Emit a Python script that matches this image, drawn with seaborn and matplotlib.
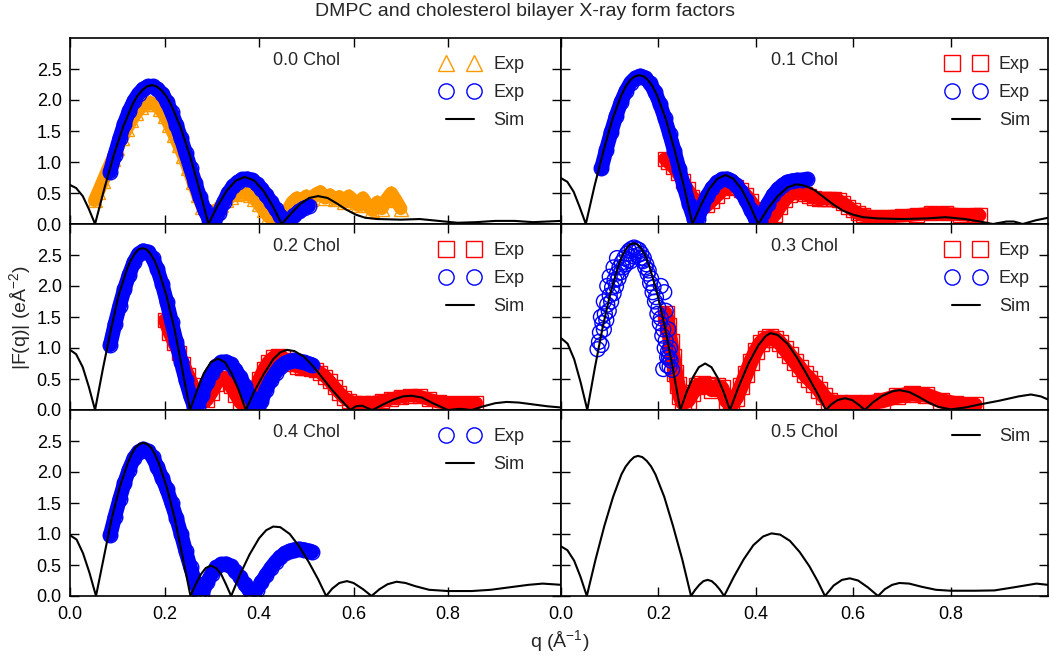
import matplotlib
matplotlib.use("Agg")
import matplotlib.pyplot as plt
from matplotlib.lines import Line2D
from matplotlib.legend_handler import HandlerLine2D
import seaborn as sns

# ---- simulated |F(q)| curves (black lines) ----
q_sim_00 = [0, 0.013, 0.027, 0.040, 0.053, 0.073, 0.093, 0.113, 0.133, 0.143, 0.153, 0.163, 0.173, 0.183,
            0.193, 0.203, 0.213, 0.233, 0.253, 0.273, 0.293, 0.312, 0.332, 0.351, 0.370, 0.390, 0.409, 0.429,
            0.448, 0.468, 0.487, 0.506, 0.525, 0.545, 0.565, 0.585, 0.605, 0.625, 0.65, 0.70, 0.74, 0.78,
            0.82, 0.86, 0.90, 0.94, 0.98, 1.04]
f_sim_00 = [0.63, 0.58, 0.45, 0.24, 0.0, 0.58, 1.12, 1.58, 1.94, 2.07, 2.16, 2.22, 2.24, 2.22,
            2.16, 2.07, 1.94, 1.58, 1.12, 0.58, 0.0, 0.29, 0.54, 0.70, 0.76, 0.70, 0.54, 0.29,
            0.0, 0.17, 0.32, 0.42, 0.45, 0.42, 0.33, 0.23, 0.15, 0.10, 0.08, 0.07, 0.08, 0.05,
            0.02, 0.03, 0.05, 0.05, 0.03, 0.05]

q_sim_01 = [0, 0.013, 0.026, 0.038, 0.051, 0.069, 0.088, 0.106, 0.124, 0.133, 0.142, 0.151, 0.161, 0.170,
            0.179, 0.188, 0.197, 0.215, 0.233, 0.252, 0.270, 0.287, 0.304, 0.321, 0.338, 0.354, 0.371, 0.388,
            0.405, 0.425, 0.445, 0.465, 0.483, 0.50, 0.52, 0.54, 0.56, 0.58, 0.60, 0.62, 0.65, 0.70, 0.75,
            0.79, 0.83, 0.86, 0.887, 0.915, 0.93, 0.948, 0.975, 1.0]
f_sim_01 = [0.74, 0.68, 0.52, 0.28, 0.0, 0.62, 1.20, 1.70, 2.08, 2.22, 2.32, 2.38, 2.40, 2.38,
            2.32, 2.22, 2.08, 1.70, 1.20, 0.62, 0.0, 0.30, 0.56, 0.73, 0.79, 0.73, 0.56, 0.30,
            0.0, 0.25, 0.45, 0.59, 0.64, 0.62, 0.55, 0.43, 0.31, 0.21, 0.15, 0.11, 0.09, 0.08, 0.09,
            0.11, 0.08, 0.04, 0.0, 0.04, 0.04, 0.0, 0.06, 0.10]

q_sim_02 = [0, 0.013, 0.027, 0.040, 0.053, 0.070, 0.087, 0.103, 0.120, 0.128, 0.137, 0.145, 0.154, 0.162,
            0.170, 0.179, 0.187, 0.204, 0.221, 0.237, 0.254, 0.269, 0.283, 0.298, 0.313, 0.328, 0.342, 0.357,
            0.372, 0.39, 0.41, 0.43, 0.445, 0.459, 0.475, 0.495, 0.515, 0.535, 0.555, 0.575, 0.593, 0.605,
            0.618, 0.63, 0.64, 0.66, 0.685, 0.705, 0.723, 0.745, 0.765, 0.785, 0.80, 0.825, 0.85, 0.875,
            0.90, 0.924, 0.95, 0.98, 1.01, 1.04]
f_sim_02 = [0.97, 0.90, 0.69, 0.37, 0.0, 0.68, 1.31, 1.85, 2.26, 2.41, 2.52, 2.59, 2.61, 2.59,
            2.52, 2.41, 2.26, 1.85, 1.31, 0.68, 0.0, 0.32, 0.59, 0.77, 0.83, 0.77, 0.59, 0.32,
            0.0, 0.30, 0.58, 0.82, 0.93, 0.97, 0.95, 0.86, 0.70, 0.51, 0.32, 0.15, 0.0, 0.06,
            0.07, 0.03, 0.0, 0.08, 0.17, 0.22, 0.23, 0.20, 0.12, 0.05, 0.0, 0.02, 0.0, 0.06,
            0.11, 0.13, 0.12, 0.09, 0.06, 0.04]

q_sim_03 = [0, 0.0135, 0.027, 0.0405, 0.054, 0.070, 0.086, 0.102, 0.118, 0.126, 0.134, 0.141, 0.150, 0.157,
            0.165, 0.173, 0.181, 0.197, 0.213, 0.229, 0.245, 0.258, 0.271, 0.283, 0.296, 0.309, 0.321, 0.334,
            0.347, 0.365, 0.385, 0.405, 0.42, 0.43, 0.445, 0.465, 0.485, 0.505, 0.525, 0.544, 0.555, 0.568,
            0.583, 0.598, 0.612, 0.624, 0.64, 0.66, 0.68, 0.695, 0.715, 0.735, 0.755, 0.775, 0.80, 0.83,
            0.86, 0.90, 0.94, 0.965, 0.985, 1.0]
f_sim_03 = [1.16, 1.07, 0.82, 0.44, 0.0, 0.70, 1.35, 1.90, 2.33, 2.49, 2.60, 2.67, 2.69, 2.67,
            2.60, 2.49, 2.33, 1.90, 1.35, 0.70, 0.0, 0.29, 0.53, 0.69, 0.75, 0.69, 0.53, 0.29,
            0.0, 0.38, 0.75, 1.04, 1.19, 1.24, 1.21, 1.07, 0.84, 0.57, 0.29, 0.0, 0.09, 0.16,
            0.19, 0.16, 0.08, 0.0, 0.12, 0.23, 0.30, 0.32, 0.29, 0.21, 0.12, 0.05, 0.01, 0.04,
            0.09, 0.15, 0.22, 0.25, 0.22, 0.17]

q_sim_04 = [0, 0.014, 0.0275, 0.041, 0.055, 0.072, 0.088, 0.105, 0.122, 0.130, 0.138, 0.147, 0.155, 0.163,
            0.172, 0.180, 0.188, 0.205, 0.222, 0.238, 0.255, 0.266, 0.277, 0.287, 0.298, 0.309, 0.320, 0.330,
            0.341, 0.36, 0.38, 0.40, 0.415, 0.43, 0.445, 0.465, 0.485, 0.505, 0.525, 0.542, 0.555, 0.57,
            0.586, 0.60, 0.62, 0.638, 0.655, 0.672, 0.691, 0.71, 0.73, 0.76, 0.80, 0.85, 0.89, 0.93, 0.97,
            1.0, 1.04]
f_sim_04 = [0.98, 0.91, 0.69, 0.38, 0.0, 0.64, 1.24, 1.75, 2.14, 2.28, 2.39, 2.45, 2.47, 2.45,
            2.39, 2.28, 2.14, 1.75, 1.24, 0.64, 0.0, 0.19, 0.35, 0.45, 0.49, 0.45, 0.35, 0.19,
            0.0, 0.35, 0.67, 0.93, 1.06, 1.12, 1.11, 1.00, 0.80, 0.55, 0.27, 0.0, 0.12, 0.21,
            0.24, 0.21, 0.11, 0.0, 0.11, 0.19, 0.23, 0.21, 0.16, 0.10, 0.08, 0.08, 0.10, 0.14, 0.18,
            0.20, 0.18]

q_sim_05 = [0, 0.013, 0.027, 0.040, 0.053, 0.071, 0.089, 0.107, 0.124, 0.133, 0.142, 0.150, 0.158, 0.167,
            0.176, 0.185, 0.194, 0.212, 0.230, 0.249, 0.267, 0.2755, 0.284, 0.2925, 0.301, 0.3095, 0.318,
            0.3265, 0.335, 0.355, 0.375, 0.395, 0.415, 0.432, 0.45, 0.47, 0.49, 0.51, 0.527, 0.542, 0.56,
            0.577, 0.593, 0.61, 0.63, 0.651, 0.665, 0.68, 0.695, 0.715, 0.74, 0.77, 0.80, 0.85, 0.89, 0.93,
            0.976, 1.0]
f_sim_05 = [0.80, 0.74, 0.57, 0.31, 0.0, 0.59, 1.13, 1.60, 1.96, 2.09, 2.18, 2.24, 2.26, 2.24,
            2.18, 2.09, 1.96, 1.60, 1.13, 0.59, 0.0, 0.10, 0.18, 0.24, 0.26, 0.24, 0.18,
            0.10, 0.0, 0.31, 0.59, 0.82, 0.96, 1.01, 0.99, 0.89, 0.71, 0.48, 0.24, 0.0, 0.17,
            0.26, 0.285, 0.25, 0.14, 0.0, 0.11, 0.18, 0.21, 0.20, 0.15, 0.10, 0.085, 0.085, 0.09, 0.14,
            0.20, 0.18]

q_orange_00 = [0.052, 0.06, 0.07, 0.08, 0.09, 0.10, 0.11, 0.12, 0.13, 0.14, 0.15, 0.16, 0.17, 0.18, 0.19,
               0.20, 0.21, 0.22, 0.23, 0.24, 0.25, 0.26, 0.27, 0.28, 0.29, 0.30, 0.31, 0.32, 0.33, 0.34,
               0.35, 0.36, 0.37, 0.38, 0.39, 0.40, 0.41, 0.42, 0.43, 0.44, 0.45, 0.46, 0.47, 0.48, 0.49,
               0.50, 0.51, 0.52, 0.53, 0.54, 0.55, 0.56, 0.57, 0.58, 0.59, 0.60, 0.61, 0.62, 0.63, 0.64,
               0.65, 0.66, 0.67, 0.68, 0.69, 0.70]
f_orange_00 = [0.38, 0.52, 0.70, 0.88, 1.05, 1.22, 1.38, 1.53, 1.67, 1.79, 1.88, 1.94, 1.96, 1.93, 1.86,
               1.75, 1.60, 1.44, 1.27, 1.10, 0.90, 0.68, 0.46, 0.28, 0.22, 0.20, 0.22, 0.30, 0.38, 0.44,
               0.48, 0.50, 0.50, 0.47, 0.41, 0.32, 0.22, 0.12, 0.06, 0.05, 0.10, 0.22, 0.35, 0.42, 0.38,
               0.45, 0.40, 0.48, 0.52, 0.42, 0.47, 0.40, 0.44, 0.35, 0.45, 0.38, 0.30, 0.42, 0.30, 0.22,
               0.35, 0.25, 0.40, 0.50, 0.38, 0.25]

q_blue_00 = [0.085, 0.095, 0.105, 0.115, 0.125, 0.135, 0.145, 0.155, 0.165, 0.175, 0.185, 0.195, 0.205,
             0.215, 0.225, 0.235, 0.245, 0.255, 0.265, 0.275, 0.285, 0.295, 0.305, 0.315, 0.325, 0.335,
             0.345, 0.355, 0.365, 0.375, 0.385, 0.395, 0.405, 0.415, 0.425, 0.435, 0.445, 0.455, 0.465,
             0.475, 0.485, 0.495, 0.505]
f_blue_00 = [0.84, 1.12, 1.38, 1.62, 1.82, 1.98, 2.10, 2.18, 2.22, 2.22, 2.18, 2.10, 1.97,
             1.80, 1.60, 1.38, 1.14, 0.90, 0.66, 0.43, 0.22, 0.07, 0.04, 0.18, 0.35, 0.50,
             0.61, 0.68, 0.72, 0.73, 0.71, 0.65, 0.57, 0.47, 0.36, 0.24, 0.13, 0.05, 0.06,
             0.14, 0.21, 0.26, 0.29]

q_red_01 = [0.213, 0.22, 0.23, 0.24, 0.25, 0.26, 0.27, 0.28, 0.29, 0.30, 0.31, 0.32, 0.33, 0.34, 0.35,
            0.36, 0.37, 0.38, 0.39, 0.40, 0.41, 0.42, 0.43, 0.44, 0.45, 0.46, 0.47, 0.48, 0.49, 0.50,
            0.51, 0.52, 0.53, 0.54, 0.55, 0.56, 0.57, 0.58, 0.59, 0.60, 0.61, 0.62, 0.64, 0.67, 0.70,
            0.73, 0.76, 0.79, 0.82, 0.85, 0.86]
f_red_01 = [1.05, 1.00, 0.92, 0.82, 0.70, 0.56, 0.44, 0.35, 0.30, 0.30, 0.37, 0.45, 0.53, 0.58, 0.60,
            0.59, 0.55, 0.47, 0.37, 0.25, 0.14, 0.07, 0.07, 0.15, 0.27, 0.38, 0.47, 0.52, 0.52, 0.49,
            0.45, 0.42, 0.41, 0.41, 0.41, 0.40, 0.38, 0.34, 0.28, 0.22, 0.17, 0.14, 0.12, 0.12, 0.13,
            0.15, 0.17, 0.17, 0.15, 0.14, 0.14]

q_blue_01 = [0.083, 0.093, 0.103, 0.113, 0.123, 0.133, 0.143, 0.153, 0.163, 0.173, 0.183, 0.193, 0.203,
             0.213, 0.223, 0.233, 0.243, 0.253, 0.263, 0.273, 0.281, 0.29, 0.30, 0.31, 0.32, 0.33, 0.34,
             0.35, 0.36, 0.37, 0.38, 0.39, 0.40, 0.408, 0.415, 0.425, 0.435, 0.445, 0.455, 0.465, 0.475,
             0.485, 0.495, 0.505]
f_blue_01 = [0.90, 1.20, 1.48, 1.74, 1.96, 2.14, 2.28, 2.36, 2.39, 2.36, 2.27, 2.13, 1.94,
             1.71, 1.45, 1.17, 0.88, 0.59, 0.32, 0.08, 0.08, 0.28, 0.45, 0.58, 0.67, 0.72, 0.73,
             0.70, 0.63, 0.52, 0.38, 0.22, 0.07, 0.05, 0.17, 0.33, 0.46, 0.56, 0.63, 0.68, 0.70,
             0.71, 0.71, 0.72]

q_red_02 = [0.20, 0.21, 0.22, 0.23, 0.24, 0.25, 0.26, 0.27, 0.28, 0.29, 0.30, 0.31, 0.32, 0.33, 0.34,
            0.35, 0.36, 0.37, 0.38, 0.39, 0.40, 0.41, 0.42, 0.43, 0.44, 0.45, 0.46, 0.47, 0.48, 0.49,
            0.50, 0.51, 0.52, 0.53, 0.54, 0.55, 0.56, 0.57, 0.58, 0.59, 0.60, 0.62, 0.64, 0.66, 0.68,
            0.70, 0.72, 0.74, 0.76, 0.78, 0.80, 0.83, 0.86]
f_red_02 = [1.45, 1.25, 1.08, 0.92, 0.75, 0.57, 0.40, 0.26, 0.17, 0.16, 0.28, 0.42, 0.52, 0.50, 0.38,
            0.25, 0.12, 0.06, 0.12, 0.30, 0.50, 0.66, 0.78, 0.85, 0.87, 0.85, 0.80, 0.74, 0.70, 0.68,
            0.67, 0.66, 0.64, 0.60, 0.54, 0.46, 0.37, 0.28, 0.20, 0.15, 0.12, 0.11, 0.12, 0.14, 0.18,
            0.21, 0.23, 0.22, 0.17, 0.13, 0.11, 0.11, 0.11]

q_blue_02 = [0.085, 0.095, 0.105, 0.115, 0.125, 0.135, 0.145, 0.155, 0.165, 0.175, 0.185, 0.195, 0.205,
             0.215, 0.225, 0.235, 0.245, 0.255, 0.263, 0.27, 0.28, 0.29, 0.30, 0.31, 0.32, 0.33, 0.34,
             0.35, 0.36, 0.37, 0.38, 0.39, 0.397, 0.405, 0.415, 0.425, 0.435, 0.445, 0.455, 0.465, 0.475,
             0.485, 0.495, 0.505, 0.512]
f_blue_02 = [1.05, 1.38, 1.68, 1.95, 2.18, 2.38, 2.52, 2.57, 2.55, 2.45, 2.27, 2.03, 1.74,
             1.42, 1.10, 0.78, 0.48, 0.22, 0.05, 0.05, 0.25, 0.45, 0.60, 0.71, 0.77, 0.78, 0.74,
             0.65, 0.53, 0.39, 0.22, 0.08, 0.04, 0.15, 0.33, 0.48, 0.60, 0.70, 0.76, 0.79, 0.80,
             0.79, 0.77, 0.75, 0.73]

q_red_03 = [0.215, 0.22, 0.225, 0.23, 0.235, 0.24, 0.245, 0.25, 0.26, 0.27, 0.28, 0.29, 0.30, 0.31, 0.32,
            0.33, 0.34, 0.35, 0.36, 0.37, 0.38, 0.39, 0.40, 0.41, 0.42, 0.43, 0.44, 0.45, 0.46, 0.47,
            0.48, 0.49, 0.50, 0.51, 0.52, 0.53, 0.54, 0.55, 0.57, 0.60, 0.63, 0.66, 0.69, 0.72, 0.75,
            0.78, 0.81, 0.85]
f_red_03 = [1.55, 1.35, 1.10, 0.85, 0.60, 0.40, 0.22, 0.12, 0.15, 0.28, 0.38, 0.42, 0.40, 0.33, 0.38,
            0.35, 0.15, 0.08, 0.20, 0.38, 0.58, 0.78, 0.95, 1.08, 1.15, 1.17, 1.15, 1.08, 0.98, 0.88,
            0.78, 0.68, 0.58, 0.50, 0.42, 0.33, 0.22, 0.14, 0.11, 0.11, 0.11, 0.15, 0.22, 0.26, 0.24,
            0.15, 0.10, 0.08]

q_blue_03 = [0.075, 0.078, 0.080, 0.083, 0.085, 0.088, 0.090, 0.093, 0.095, 0.098, 0.100, 0.103, 0.105,
             0.108, 0.110, 0.113, 0.115, 0.118, 0.120, 0.123, 0.125, 0.128, 0.130, 0.133, 0.135, 0.138,
             0.140, 0.143, 0.145, 0.148, 0.150, 0.153, 0.155, 0.158, 0.160, 0.163, 0.165, 0.168, 0.170,
             0.173, 0.175, 0.178, 0.180, 0.183, 0.185, 0.188, 0.190, 0.193, 0.195, 0.198, 0.200, 0.203,
             0.205, 0.208, 0.210, 0.213, 0.215, 0.218, 0.220, 0.223, 0.225, 0.228, 0.082, 0.088, 0.095,
             0.100, 0.108, 0.115, 0.205, 0.212, 0.215, 0.220, 0.224, 0.218, 0.210, 0.222]
f_blue_03 = [0.98, 1.10, 1.25, 1.05, 1.40, 1.30, 1.55, 1.45, 1.70, 1.60, 1.85, 1.75, 1.98,
             1.88, 2.10, 2.00, 2.20, 2.12, 2.30, 2.22, 2.38, 2.30, 2.45, 2.35, 2.52, 2.42,
             2.57, 2.40, 2.60, 2.48, 2.62, 2.55, 2.60, 2.50, 2.58, 2.45, 2.52, 2.40, 2.45,
             2.30, 2.35, 2.20, 2.25, 2.05, 2.12, 1.90, 1.98, 1.75, 1.82, 1.55, 1.65, 1.40,
             1.48, 1.20, 1.30, 1.00, 1.12, 0.85, 0.95, 0.70, 0.80, 0.65, 1.50, 1.75, 2.00,
             2.15, 2.30, 2.45, 2.00, 1.90, 1.60, 1.30, 1.00, 0.72, 0.66, 0.85]

q_blue_04 = [0.085, 0.095, 0.105, 0.115, 0.125, 0.135, 0.145, 0.155, 0.165, 0.175, 0.185, 0.195, 0.205,
             0.215, 0.225, 0.235, 0.245, 0.255, 0.265, 0.273, 0.28, 0.29, 0.30, 0.31, 0.32, 0.33, 0.34,
             0.35, 0.36, 0.37, 0.38, 0.387, 0.395, 0.405, 0.415, 0.425, 0.435, 0.445, 0.455, 0.465, 0.475,
             0.485, 0.495, 0.505, 0.512]
f_blue_04 = [0.98, 1.28, 1.56, 1.82, 2.04, 2.22, 2.33, 2.37, 2.34, 2.24, 2.08, 1.90, 1.72,
             1.50, 1.26, 1.00, 0.72, 0.46, 0.22, 0.06, 0.05, 0.22, 0.36, 0.46, 0.51, 0.52, 0.48,
             0.40, 0.30, 0.19, 0.08, 0.04, 0.10, 0.22, 0.34, 0.45, 0.55, 0.63, 0.69, 0.73, 0.75,
             0.76, 0.75, 0.73, 0.71]

panel_titles = ["0.0 Chol", "0.1 Chol", "0.2 Chol", "0.3 Chol", "0.4 Chol", "0.5 Chol"]
x_ticks = [0.0, 0.2, 0.4, 0.6, 0.8]
y_ticks = [0.0, 0.5, 1.0, 1.5, 2.0, 2.5]

ORANGE = "#ff9900"
BLUE = "#0000ff"
RED = "#ff0000"

sns.set_theme(style="ticks")
plt.rcParams["font.family"] = ["Liberation Sans", "DejaVu Sans"]
plt.rcParams["mathtext.fontset"] = "custom"
plt.rcParams["mathtext.rm"] = "Liberation Sans"
plt.rcParams["mathtext.it"] = "Liberation Sans:italic"
plt.rcParams["axes.linewidth"] = 1.2
plt.rcParams["axes.edgecolor"] = "black"
FS = 13
LABEL_FS = 14

fig, axes = plt.subplots(3, 2, figsize=(10.5, 6.59), dpi=100, sharey=True,
                         gridspec_kw=dict(width_ratios=[491, 487], wspace=0, hspace=0))
fig.subplots_adjust(left=70 / 1050, right=1048 / 1050, top=1 - 38 / 659, bottom=1 - 596 / 659)


def draw_band(ax, q, f, color, marker, width, z):
    # dense experimental points show up as a solid band of hollow markers
    sns.lineplot(x=q, y=f, ax=ax, color=color, lw=width, marker=marker, ms=width, mfc="none",
                 mec=color, mew=1, sort=False, estimator=None, solid_joinstyle="round",
                 solid_capstyle="round", zorder=z)


def exp_handle(marker, color):
    return Line2D([], [], ls="none", marker=marker, ms=11, mfc="none", mec=color, mew=1)


sim_handle = Line2D([], [], color="black", lw=1.5)
tri_h = exp_handle("^", ORANGE)
sq_h = exp_handle("s", RED)
circ_h = exp_handle("o", BLUE)

panels = [
    (axes[0, 0], q_sim_00, f_sim_00,
     [(q_orange_00, f_orange_00, ORANGE, "^", 9.5), (q_blue_00, f_blue_00, BLUE, "o", 10.5)],
     [tri_h, circ_h, sim_handle]),
    (axes[0, 1], q_sim_01, f_sim_01,
     [(q_red_01, f_red_01, RED, "s", 9.5), (q_blue_01, f_blue_01, BLUE, "o", 10.5)],
     [sq_h, circ_h, sim_handle]),
    (axes[1, 0], q_sim_02, f_sim_02,
     [(q_red_02, f_red_02, RED, "s", 9.5), (q_blue_02, f_blue_02, BLUE, "o", 10.5)],
     [sq_h, circ_h, sim_handle]),
    (axes[1, 1], q_sim_03, f_sim_03,
     [(q_red_03, f_red_03, RED, "s", 11)],
     [sq_h, circ_h, sim_handle]),
    (axes[2, 0], q_sim_04, f_sim_04,
     [(q_blue_04, f_blue_04, BLUE, "o", 10.5)],
     [circ_h, sim_handle]),
    (axes[2, 1], q_sim_05, f_sim_05, [], [sim_handle]),
]

for i, (ax, qs, fs, exps, handles) in enumerate(panels):
    z = 2
    for q, f, color, marker, width in exps:
        draw_band(ax, q, f, color, marker, width, z)
        z += 1
    if i == 3:
        # 0.3 Chol: the blue points are sparse enough to show individual rings
        sns.scatterplot(x=q_blue_03, y=f_blue_03, ax=ax, marker="o", s=115, facecolors="none",
                        edgecolor=BLUE, linewidth=1, zorder=z)
    sns.lineplot(x=qs, y=fs, ax=ax, color="black", lw=1.5, sort=False, estimator=None, zorder=10)

    col = i % 2
    ax.set_xlim(0, 1.039 if col == 0 else 1.0)
    ax.set_ylim(0, 3.0)
    ax.set_xticks(x_ticks)
    ax.set_yticks(y_ticks)
    ax.set_xlabel("")
    ax.set_ylabel("")
    ax.tick_params(direction="in", length=6.5, width=1, top=True, right=True, labelsize=FS,
                   colors="black")
    ax.tick_params(axis="x", pad=7)
    ax.tick_params(axis="y", pad=6)
    if i < 4:
        ax.tick_params(labelbottom=False)
    ax.text(0.5, 2.63, panel_titles[i], ha="center", va="center", fontsize=FS)

    labels = ["Sim" if h is sim_handle else "Exp" for h in handles]
    anchor_x = 1.0 / 1.039 if col == 0 else 1.0
    ax.legend(handles, labels, loc="upper right", bbox_to_anchor=(anchor_x, 1.0), frameon=False,
              numpoints=2, fontsize=FS, handlelength=1.55, handletextpad=1.05, labelspacing=0.62,
              borderaxespad=0.6, handler_map={Line2D: HandlerLine2D(marker_pad=0.0)})

fig.text(0.5, 1 - 11 / 659, "DMPC and cholesterol bilayer X-ray form factors", ha="center",
         va="center", fontsize=LABEL_FS)
fig.text(20 / 1050, 1 - 317 / 659, r"|F(q)| (eÅ$^{-2}$)", rotation=90, ha="center", va="center",
         fontsize=LABEL_FS)
fig.text(560 / 1050, 1 - 641 / 659, r"q (Å$^{-1}$)", ha="center", va="center", fontsize=LABEL_FS)

fig.savefig("out.png", dpi=100)
